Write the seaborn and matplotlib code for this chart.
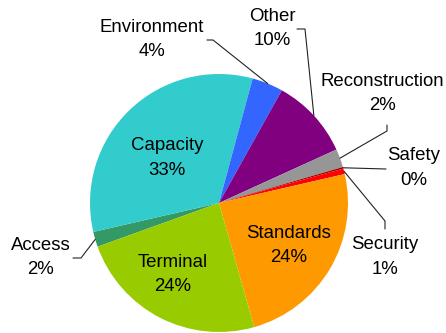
import numpy as np
import seaborn as sns
import matplotlib.pyplot as plt

categories = ["Access", "Capacity", "Environment", "Other", "Reconstruction",
              "Safety", "Security", "Standards", "Terminal"]
shares = [1.9, 32.8, 3.9, 10.1, 2.3, 0.2, 0.7, 24.2, 23.9]
pct_labels = ["2%", "33%", "4%", "10%", "2%", "0%", "1%", "24%", "24%"]
colors = ["#339966", "#33CCCC", "#3366FF", "#800080", "#969696",
          "#990000", "#FF0000", "#FF9900", "#99CC00"]

sns.set_theme(style="white")
plt.rcParams["font.family"] = ["Liberation Sans", "DejaVu Sans"]

W, H = 446, 333
fig = plt.figure(figsize=(W / 100, H / 100), dpi=100)
ax = fig.add_axes([0, 0, 1, 1])

cx, cy, r = 219, H - 203, 129
wedges, _ = ax.pie(shares, colors=colors, startangle=199.8, counterclock=False,
                   center=(cx, cy), radius=r, wedgeprops=dict(linewidth=0))
ax.set_xlim(0, W)
ax.set_ylim(0, H)
ax.set_aspect("equal")
ax.axis("off")

# label centres (image pixel coords) and elbow points of leader lines
layout = {
    "Access": ((41, 257.5), [(73, 258), (81, 258)]),
    "Capacity": ((167, 158), None),
    "Environment": ((152, 39.5), [(207, 40), (213, 40)]),
    "Other": ((272, 28.5), [(297, 29), (305, 29)]),
    "Reconstruction": ((382, 93.5), [(387, 125), (387, 131)]),
    "Safety": ((414, 168), [(386, 169)]),
    "Security": ((385, 257), [(385, 229), (385, 221)]),
    "Standards": ((289, 245.5), None),
    "Terminal": ((173, 274.5), None),
}

for w, name, pct in zip(wedges, categories, pct_labels):
    (tx, ty), elbow = layout[name]
    ax.text(tx, H - ty, f"{name}\n{pct}", ha="center", va="center",
            fontsize=13.4, linespacing=1.55, color="black", clip_on=False)
    if elbow:
        mid = np.deg2rad((w.theta1 + w.theta2) / 2)
        px, py = cx + r * np.cos(mid), cy + r * np.sin(mid)
        xs = [p[0] for p in elbow] + [px]
        ys = [H - p[1] for p in elbow] + [py]
        ax.plot(xs, ys, color="#222222", lw=0.8)

fig.savefig("out.png", dpi=100)
